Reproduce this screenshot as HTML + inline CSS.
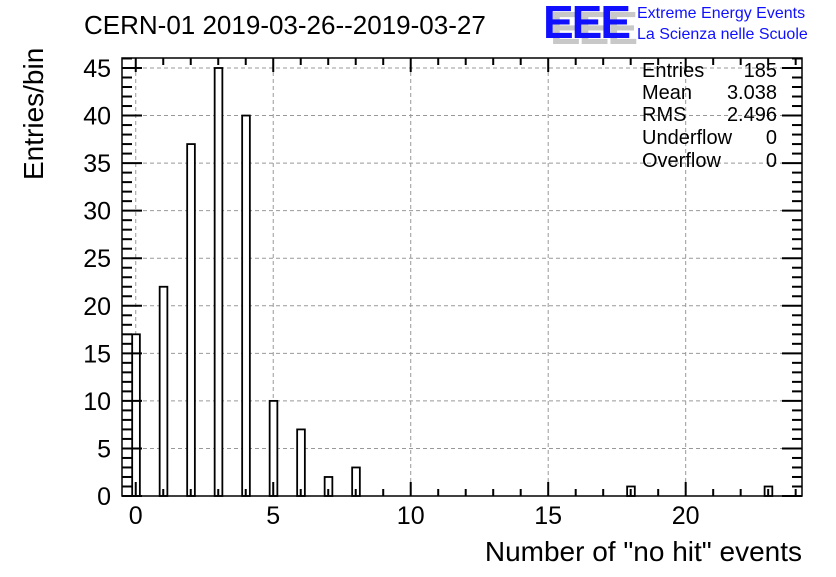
<!DOCTYPE html>
<html><head><meta charset="utf-8"><style>
body{margin:0;background:#fff;width:836px;height:572px;overflow:hidden}
text{font-family:"Liberation Sans",sans-serif}
</style></head><body>
<svg id="c" width="836" height="572">
<text x="84" y="34" font-size="26">CERN-01 2019-03-26--2019-03-27</text>
<g>
<text x="550" y="44" font-size="46" font-weight="bold" fill="#c8c8c8" letter-spacing="-2">EEE</text>
<text x="543" y="38" font-size="46" font-weight="bold" fill="#1010ff" letter-spacing="-2">EEE</text>
<text x="637" y="18" font-size="16" fill="#1010ff">Extreme Energy Events</text>
<text x="637" y="39" font-size="16" fill="#1010ff">La Scienza nelle Scuole</text>
</g>
<g id="grid"></g><g id="bars"></g><g id="axes"></g>
<g font-size="20">
<text x="642" y="77">Entries</text><text x="777" y="77" text-anchor="end">185</text>
<text x="642" y="99">Mean</text><text x="777" y="99" text-anchor="end">3.038</text>
<text x="642" y="121">RMS</text><text x="777" y="121" text-anchor="end">2.496</text>
<text x="642" y="144">Underflow</text><text x="777" y="144" text-anchor="end">0</text>
<text x="642" y="167">Overflow</text><text x="777" y="167" text-anchor="end">0</text>
</g>
<text x="802" y="561" font-size="28" text-anchor="end">Number of "no hit" events</text>
<text transform="translate(43,180) rotate(-90)" font-size="28">Entries/bin</text>
</svg>
<script>
const categories=[0,1,2,3,4,5,6,7,8,18,23];
const counts=[17,22,37,45,40,10,7,2,3,1,1];
const xTicks=[0,5,10,15,20];
const yTicks=[0,5,10,15,20,25,30,35,40,45];
const L=122,R=802,T=58,B=496,x0=-0.5,x1=24.23,y0=0,y1=46.05;
const X=v=>L+(v-x0)/(x1-x0)*(R-L), Y=v=>B-(v-y0)/(y1-y0)*(B-T);
const ns="http://www.w3.org/2000/svg";
function mk(p,t,a){const e=document.createElementNS(ns,t);for(const k in a)e.setAttribute(k,a[k]);p.appendChild(e);return e;}
const g=document.getElementById('grid'),b=document.getElementById('bars'),ax=document.getElementById('axes');
xTicks.forEach(v=>{const e=mk(g,'line',{x1:X(v),x2:X(v),y1:T,y2:B,stroke:'#999','stroke-dasharray':'4,3'});
});
yTicks.forEach(v=>{const e=mk(g,'line',{x1:L,x2:R,y1:Y(v),y2:Y(v),stroke:'#999','stroke-dasharray':'4,3'});
});
categories.forEach((c,i)=>{const xa=X(c-0.13),xb=X(c+0.15);
const r=mk(b,'rect',{x:xa,y:Y(counts[i]),width:xb-xa,height:B-Y(counts[i]),fill:'#fff',stroke:'#000','stroke-width':1.8});
});
const f=mk(ax,'rect',{x:L,y:T,width:R-L,height:B-T,fill:'none',stroke:'#000','stroke-width':1.5});

for(let v=0;v<=24;v++){const big=v%5==0,h=big?14:7;
mk(ax,'line',{x1:X(v),x2:X(v),y1:B,y2:B-h,stroke:'#000','stroke-width':2});
mk(ax,'line',{x1:X(v),x2:X(v),y1:T,y2:T+h,stroke:'#000','stroke-width':2});}
for(let v=0;v<=46;v++){const big=v%5==0,h=big?20:10;
mk(ax,'line',{x1:L,x2:L+h,y1:Y(v),y2:Y(v),stroke:'#000','stroke-width':2});
mk(ax,'line',{x1:R,x2:R-h,y1:Y(v),y2:Y(v),stroke:'#000','stroke-width':2});}
xTicks.forEach(v=>{const t=mk(ax,'text',{x:X(v),y:524,'font-size':25,'text-anchor':'middle'});t.textContent=v;
});
yTicks.forEach(v=>{const t=mk(ax,'text',{x:111,y:Y(v)+9,'font-size':25,'text-anchor':'end'});t.textContent=v;
});
</script>
</body></html>
